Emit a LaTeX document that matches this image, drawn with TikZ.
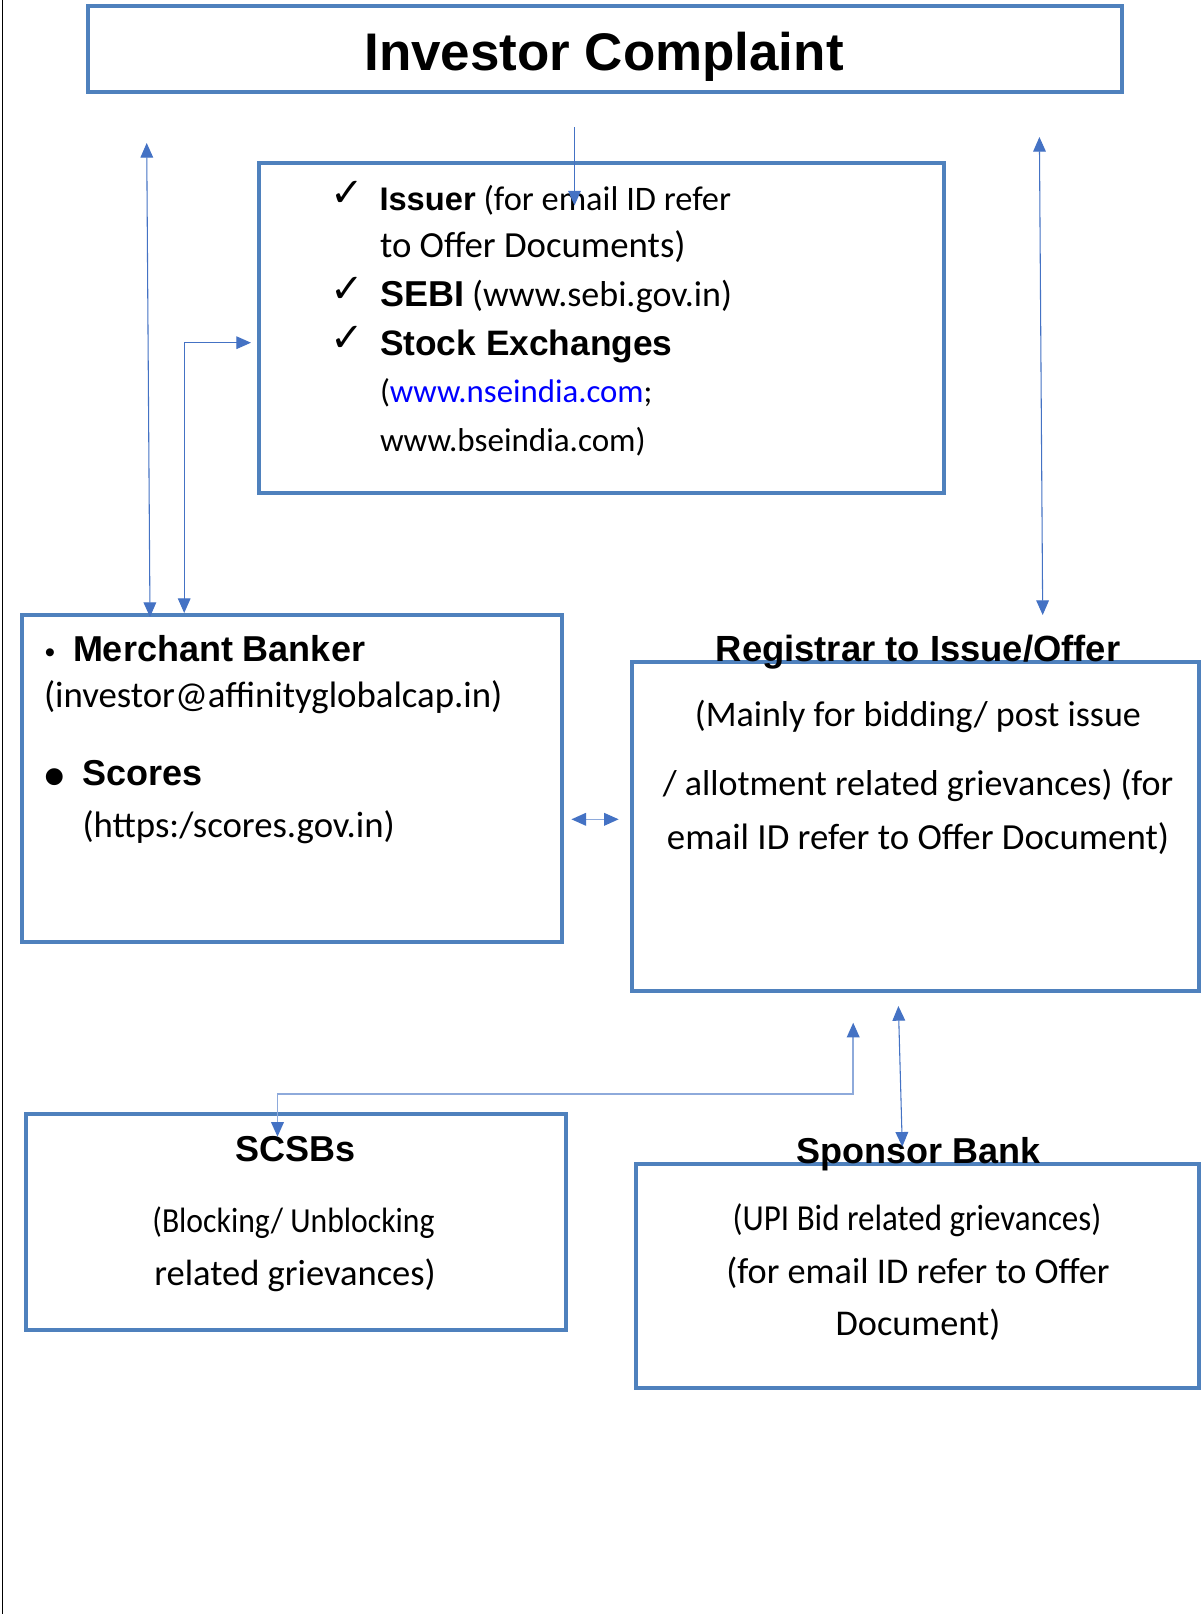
\documentclass[tikz,border=0pt]{standalone}
\usepackage{fontspec}
\setmainfont{Carlito}
\newfontfamily\hvfam{Liberation Sans}
\newfontfamily\ccfam[FakeStretch=0.9]{Carlito}
\newfontfamily\dvfam{DejaVu Sans}
\usetikzlibrary{arrows.meta,fit}
\definecolor{boxblue}{HTML}{4F81BD}
\definecolor{arrblue}{HTML}{4472C4}
\definecolor{lightarr}{HTML}{8EAADB}
\definecolor{linkblue}{HTML}{0000FF}
\newcommand\myB{\hvfam\bfseries\fontsize{27}{32}\selectfont}
\newcommand\myR{\normalfont\fontsize{27}{32}\selectfont}
\newcommand\myCk{\dvfam\fontsize{30}{30}\selectfont ✓}
\begin{document}
\begin{tikzpicture}[x=0.75pt,y=-0.75pt,
  >={Triangle[length=11pt,width=9.5pt,color=arrblue]},
  box/.style={draw=boxblue,line width=3pt,inner sep=0pt,rectangle},
  txt/.style={inner sep=0pt,outer sep=0pt},
  arr/.style={draw=arrblue,line width=0.8pt,<->},
  arrone/.style={draw=arrblue,line width=0.8pt,->},
  lightarrow/.style={draw=lightarr,line width=1.2pt,<->}]
\useasboundingbox (0,0) rectangle (1202,1614);
\fill[white] (0,0) rectangle (1202,1614);
\draw[black,line width=0.8pt] (2.8,0) -- (2.8,1614);

% boxes
\node[box,fit={(87.5,6.2) (1121.7,91.6)}] (top) {};
\node[box,fit={(259.3,162.6) (943.7,492.9)}] (iss) {};
\node[box,fit={(21.6,615.4) (561.9,941.6)}] (mb) {};
\node[box,fit={(632,661.7) (1199,990.5)}] (reg) {};
\node[box,fit={(25.7,1113.5) (566,1329.6)}] (scsb) {};
\node[box,fit={(636,1164) (1199,1388.2)}] (spon) {};

% title
\node[txt,anchor=base] (ttl) at (604,70) {\hvfam\bfseries\fontsize{39.7}{42}\selectfont Investor Complaint};

% issuer list
\node[txt,anchor=base west] (ck1) at (330,206) {\myCk};
\node[txt,anchor=base west] (ck2) at (330,302.7) {\myCk};
\node[txt,anchor=base west] (ck3) at (330,351) {\myCk};
\node[txt,anchor=base west] (i1) at (379.5,210) {\hvfam\bfseries\fontsize{24.5}{30}\selectfont Issuer\normalfont\fontsize{25.8}{30}\selectfont\ (for email ID refer};
\node[txt,anchor=base west] (i2) at (380,257.5) {\normalfont\fontsize{27.6}{32}\selectfont to Offer Documents)};
\node[txt,anchor=base west] (i3) at (380,306.5) {\myB SEBI\normalfont\fontsize{27}{30}\selectfont\ (www.sebi.gov.in)};
\node[txt,anchor=base west] (i4) at (380,355) {\hvfam\bfseries\fontsize{26.5}{32}\selectfont Stock Exchanges};
\node[txt,anchor=base west] (i5) at (380,402.7) {\normalfont\fontsize{24.6}{30}\selectfont (\textcolor{linkblue}{www.nseindia.com};};
\node[txt,anchor=base west] (i6) at (380,451.7) {\normalfont\fontsize{24.8}{30}\selectfont www.bseindia.com)};

% merchant banker
\node[txt,anchor=base] (b1) at (50,662.7) {\hvfam\fontsize{22}{22}\selectfont •};
\node[txt,anchor=base west] (m1) at (73,661.7) {\myB Merchant Banker};
\node[txt,anchor=base west] (m2) at (44,707.5) {\normalfont\fontsize{27.6}{32}\selectfont (investor@affinityglobalcap.in)};
\node[txt,anchor=base] (b2) at (55,796) {\hvfam\bfseries\fontsize{44}{44}\selectfont •};
\node[txt,anchor=base west] (m3) at (82.5,785.7) {\myB Scores};
\node[txt,anchor=base west] (m4) at (82.5,837.3) {\normalfont\fontsize{27.6}{32}\selectfont (https:/scores.gov.in)};

% registrar
\node[txt,anchor=base] (rt) at (918,661) {\hvfam\bfseries\fontsize{27.3}{32}\selectfont Registrar to Issue/Offer};
\node[txt,anchor=base] (r1) at (918,726.7) {\myR (Mainly for bidding/ post issue};
\node[txt,anchor=base] (r2) at (918,795) {\myR / allotment related grievances) (for};
\node[txt,anchor=base] (r3) at (918,849.3) {\normalfont\fontsize{27.6}{32}\selectfont email ID refer to Offer Document)};

% SCSBs
\node[txt,anchor=base] (st) at (295.2,1161) {\myB SCSBs};
\node[txt,anchor=base] (s1) at (293.5,1232.3) {\ccfam\fontsize{26.4}{30}\selectfont (Blocking/ Unblocking};
\node[txt,anchor=base] (s2) at (295,1285.5) {\normalfont\fontsize{27.4}{32}\selectfont related grievances)};

% Sponsor bank
\node[txt,anchor=base] (spt) at (918.4,1163.3) {\myB Sponsor Bank};
\node[txt,anchor=base] (p1) at (917,1230.3) {\ccfam\fontsize{27.5}{30}\selectfont (UPI Bid related grievances)};
\node[txt,anchor=base] (p2) at (918,1283) {\normalfont\fontsize{27.2}{30}\selectfont (for email ID refer to Offer};
\node[txt,anchor=base] (p3) at (918,1335) {\normalfont\fontsize{27.2}{30}\selectfont Document)};

% connector end points
\coordinate (a1t) at (146.7,143);
\coordinate (a1b) at (150,617);
\coordinate (a2a) at (184.2,613);
\coordinate (a2b) at (251,342.7);
\coordinate (a3t) at (574.5,127);
\coordinate (a3b) at (574.5,205.5);
\coordinate (a4t) at (1039.4,137);
\coordinate (a4b) at (1042.7,615);
\coordinate (a5l) at (571.4,819.3);
\coordinate (a5r) at (618.7,819.3);
\coordinate (a6a) at (277.5,1136.7);
\coordinate (a6b) at (853.2,1022.7);
\coordinate (a7t) at (898.4,1006);
\coordinate (a7b) at (902.3,1146.7);

% connectors
\draw[arr] (a1t) -- (a1b);
\draw[arr] (a2a) |- (a2b);
\draw[arrone] (a3t) -- (a3b);
\draw[arr] (a4t) -- (a4b);
\draw[lightarrow] (a5l) -- (a5r);
\draw[lightarrow] (a6a) -- ++(0,-43) -| (a6b);
\draw[arr] (a7t) -- (a7b);
\end{tikzpicture}
\end{document}
